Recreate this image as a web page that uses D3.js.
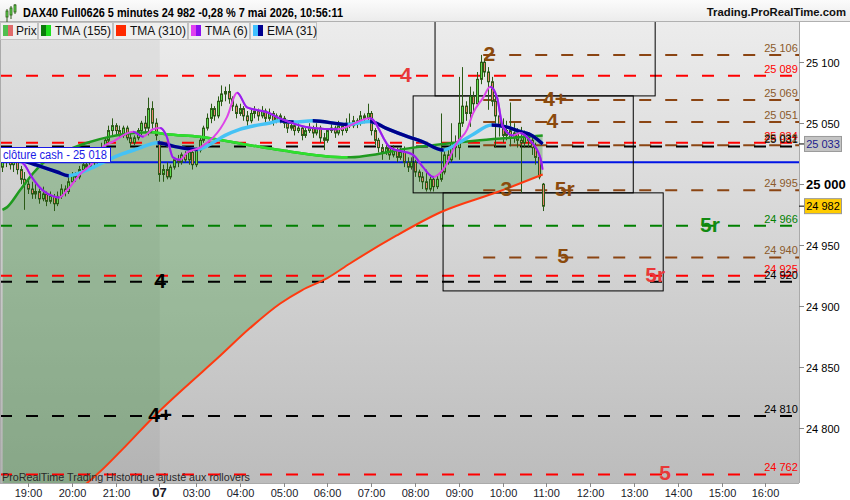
<!DOCTYPE html>
<html><head><meta charset="utf-8">
<script src="https://cdn.jsdelivr.net/npm/d3@7"></script>
<style>body{margin:0;background:#fff;} svg{display:block;font-family:"Liberation Sans",Arial,sans-serif;}</style>
</head><body><svg id="c" width="850" height="500"></svg>
<script>
// ---------- DATA ----------
const title = "DAX40 Full0626 5 minutes 24 982 -0,28 % 7 mai 2026, 10:56:11";
const brand = "Trading.ProRealTime.com";
const footer = "ProRealTime Trading  Historique ajusté aux rollovers";
const legendNames = ["Prix", "TMA (155)", "TMA (310)", "TMA (6)", "EMA (31)"];
// x tick labels and their bar index (5-minute bars, 0 = 19:00)
const tickLabels = ["19:00","20:00","21:00","07","03:00","04:00","05:00","06:00","07:00","08:00","09:00","10:00","11:00","12:00","13:00","14:00","15:00","16:00"];
const tickIndex  = [0,12,24,36,46,58,70,82,94,106,118,130,142,154,166,178,190,202];
const sessionBreak = 36.1;
const yTicks = [24800, 24850, 24900, 24950, 25000, 25050, 25100];
// candles: first bar index, then [open, high, low, close]
const barStart = -7;
const bars = [
[25014,25022,25010,25018],[25018,25026,25014,25022],[25022,25024,25012,25016],[25016,25023,25010,25020],
[25020,25022,25008,25012],[25012,25015,25000,25004],[25004,25010,24979,25000],[25000,25005,24992,24996],
[24996,25002,24988,24992],[24992,25000,24988,24994],[24994,24997,24984,24988],[24988,24998,24986,24992],
[24992,24994,24982,24986],[24986,24994,24984,24990],[24990,24992,24978,24984],[24984,24994,24982,24990],
[24990,25000,24988,24996],[24996,24999,24990,24994],[24994,25006,24992,25002],[25002,25010,25000,25008],
[25008,25010,25002,25006],[25006,25015,25004,25012],[25012,25019,25010,25016],[25016,25018,25010,25014],
[25014,25023,25012,25020],[25020,25022,25014,25018],[25018,25030,25016,25026],[25026,25034,25024,25030],
[25030,25038,25028,25036],[25036,25048,25034,25044],[25044,25054,25040,25048],[25048,25050,25040,25044],
[25044,25048,25038,25040],[25040,25048,25038,25046],[25046,25048,25036,25038],[25038,25042,25031,25034],
[25034,25040,25032,25038],[25038,25046,25036,25044],[25044,25052,25040,25050],[25050,25056,25042,25046],
[25046,25071,25040,25062],[25062,25068,25044,25050],[25050,25054,25036,25040],[25034,25036,25002,25008],
[25008,25016,25002,25012],[25012,25018,25004,25006],[25006,25016,25004,25014],[25014,25022,25012,25020],
[25020,25024,25014,25018],[25018,25026,25016,25024],[25024,25027,25018,25020],[25020,25028,25016,25026],
[25026,25028,25012,25016],[25016,25030,25014,25028],[25028,25038,25026,25036],[25036,25048,25034,25046],
[25046,25058,25044,25054],[25054,25066,25050,25062],[25062,25064,25052,25056],[25056,25072,25054,25068],
[25068,25081,25064,25074],[25074,25080,25068,25076],[25076,25082,25066,25070],[25070,25072,25060,25064],
[25064,25066,25054,25058],[25058,25066,25056,25062],[25062,25064,25052,25056],[25056,25060,25048,25052],
[25052,25062,25050,25058],[25058,25064,25054,25060],[25060,25062,25052,25056],[25056,25064,25054,25060],
[25060,25062,25050,25054],[25054,25062,25052,25058],[25058,25060,25048,25052],[25052,25058,25050,25056],
[25056,25058,25050,25054],[25054,25056,25046,25050],[25050,25052,25042,25046],[25046,25052,25044,25048],
[25048,25050,25040,25044],[25044,25050,25042,25046],[25046,25048,25036,25040],[25040,25046,25038,25044],
[25044,25050,25042,25046],[25046,25048,25038,25042],[25042,25050,25040,25046],[25046,25048,25034,25038],
[25038,25042,25028,25036],[25036,25046,25034,25044],[25044,25050,25042,25046],[25046,25048,25038,25042],
[25042,25052,25040,25048],[25048,25050,25040,25044],[25044,25054,25042,25050],[25050,25058,25046,25048],
[25048,25056,25046,25052],[25052,25054,25046,25050],[25050,25060,25048,25056],[25056,25058,25050,25054],
[25054,25066,25052,25058],[25058,25060,25040,25044],[25044,25046,25032,25036],[25036,25038,25026,25030],
[25030,25033,25020,25026],[25026,25034,25024,25030],[25030,25032,25020,25024],[25024,25032,25022,25028],
[25028,25030,25018,25022],[25022,25030,25020,25026],[25026,25031,25014,25018],[25018,25022,25010,25014],
[25014,25022,25012,25018],[25018,25020,25006,25010],[25010,25012,25002,25006],[25006,25010,24996,25002],
[25002,25012,24994,24996],[24996,25008,24994,25004],[25004,25006,24994,24998],[24998,25008,24996,25004],
[25004,25058,25002,25010],[25010,25030,25008,25024],[25024,25028,25016,25020],[25020,25050,25018,25034],
[25034,25040,25022,25030],[25030,25088,25020,25050],[25050,25096,25047,25064],[25064,25068,25052,25058],
[25058,25080,25047,25072],[25072,25076,25060,25066],[25066,25092,25064,25086],[25086,25106,25082,25100],
[25100,25103,25088,25092],[25092,25096,25061,25084],[25084,25088,25064,25068],[25068,25074,25030,25056],
[25056,25063,25039,25048],[25048,25054,25034,25040],[25040,25052,25036,25044],[25044,25067,25031,25038],
[25038,25050,25034,25042],[25042,25046,25030,25036],[25036,25047,24993,25034],[25034,25044,25030,25040],
[25040,25042,25030,25036],[25036,25040,25024,25030],[25030,25034,25016,25022],[25022,25024,25004,25006],
[25000,25001,24978,24982]
];
// moving averages: [bar index, value]
const tma155 = [[-7,24979],[-5.8,24981],[-2.2,24995],[1.4,25009],[6,25022],[10.7,25028],[16.2,25034],[22.5,25039],[28.8,25042],[34,25042.5],[38,25041],[47,25039],[60.8,25032],[69,25028],[87.4,25022],[105.5,25030],[123.8,25036],[141,25040]];
const tma310 = [[-7,24700],[5,24730],[15,24752],[20,24765],[26,24783],[35,24811],[43.6,24835],[51.8,24857],[60.8,24882],[69,24902],[75,24913],[82,24923],[88.2,24935],[101,24958],[113,24977],[129,24994],[141,25008]];
const tma6 = [[-7,25022],[-4,25021],[-1,25016],[1,25006],[4,24995],[7,24990],[8.5,24989],[10.7,24995],[14.2,25008],[18.4,25020],[20.3,25030],[23.3,25035],[28.8,25043],[31.5,25039],[34.2,25045],[36.2,25046],[38,25039],[39.7,25022],[41.6,25020],[43.6,25026],[47.1,25030],[54.5,25055],[57.3,25075],[60,25063],[65.5,25059],[69,25054],[78,25046],[84.6,25045],[93.7,25054],[99.2,25030],[105.5,25024],[108.2,25014],[111,25006],[113.7,25012],[117.5,25034],[120.3,25045],[121.9,25058],[124.7,25071],[126.6,25080],[128.5,25071],[130.1,25047],[132.9,25040],[134.8,25042],[137.5,25036],[140.3,25022],[141,25012]];
const ema31 = [[-7,25023],[-4,25021],[0,25018],[4,25014],[8,25010],[11,25007],[14,25009],[18,25014],[22,25020],[26,25025],[30,25029],[35.5,25034],[40,25031],[44,25029],[46.3,25028.5],[50,25033],[54,25040],[58,25045],[62,25048],[66,25050],[69,25052],[72.6,25051],[78,25052],[87.4,25049],[93.7,25051.5],[98,25046],[104,25039],[108,25035],[113.7,25028],[118,25034],[122,25041],[127,25048.5],[131,25047],[135,25043],[138,25040],[141,25033]];
// horizontal levels
const levelValues = [25106, 25089, 25069, 25051, 25034, 25032, 25031, 24995, 24966, 24940, 24925, 24920, 24810, 24762];
const levelKinds  = ["intraday","daily","intraday","intraday","daily","intraday","weekly","intraday","reversal","intraday","daily","weekly","weekly","daily"];
const intradayFrom = 124.7;
const tagTexts  = ["2","4","4+","4","3","5r","5r","5","5r","4","4+","5"];
const tagLevels = [25106,25089,25069,25051,24995,24995,24966,24940,24925,24920,24810,24762];
const tagKinds  = ["intraday","daily","intraday","intraday","intraday","intraday","reversal","intraday","daily","weekly","weekly","daily"];
const tagAt     = [126.4,103.5,144.4,143.6,131,147,186.8,146.6,171.8,36.2,36.2,174.5];
const cashClose = 25018;
// boxes: [from index, to index, top value, bottom value]
const boxes = [[111.5,171.8,25150,25072.4],[105.5,165.8,25072.4,24992.9],[113.7,174,24992.9,24912.5]];
const lastPrice = 24982, lastEma = 25033;

// ---------- DRAW ----------
const svg = d3.select("#c");
const W = 850, H = 500, PL = 0, PR = 799, PT = 22, PB = 483;
const x = d3.scaleLinear().domain([-7.67, 211.2]).range([PL, PR]);
const y = d3.scaleLinear().domain([24755, 25133]).range([PB, PT]);
const fmt = d3.formatLocale({thousands: " ", grouping: [3], decimal: ","}).format(",d");
const defs = svg.append("defs");

const bgGrad = defs.append("linearGradient").attr("id","bg").attr("x1",0).attr("x2",0).attr("y1",0).attr("y2",1);
bgGrad.append("stop").attr("offset","0%").attr("stop-color","#ececec");
bgGrad.append("stop").attr("offset","100%").attr("stop-color","#bcbcbc");
const hdGrad = defs.append("linearGradient").attr("id","hd").attr("x1",0).attr("x2",0).attr("y1",0).attr("y2",1);
hdGrad.append("stop").attr("offset","0%").attr("stop-color","#fbfbfb");
hdGrad.append("stop").attr("offset","100%").attr("stop-color","#ececec");

defs.append("clipPath").attr("id","plot").append("rect").attr("x",PL).attr("y",PT).attr("width",PR-PL).attr("height",PB-PT);

svg.append("rect").attr("width",W).attr("height",H).attr("fill","#fff");
svg.append("rect").attr("x",PL).attr("y",PT).attr("width",PR-PL).attr("height",PB-PT).attr("fill","url(#bg)");

const g = svg.append("g").attr("clip-path","url(#plot)");
g.append("rect").attr("x",PL).attr("y",PT).attr("width",x(sessionBreak)-PL).attr("height",PB-PT).attr("fill","rgba(0,0,0,0.045)");

// fill between TMA155 and TMA310
const redClip = defs.append("clipPath").attr("id","aboveRed");
redClip.append("path").attr("d", d3.area().x(d=>x(d[0])).y0(0).y1(d=>y(d[1])).curve(d3.curveMonotoneX)(tma310));
g.append("path").attr("d", d3.area().x(d=>x(d[0])).y0(PB+50).y1(d=>y(d[1])).curve(d3.curveMonotoneX)(tma155))
  .attr("fill","rgba(45,140,45,0.32)").attr("clip-path","url(#aboveRed)");

svg.append("text").attr("x",2).attr("y",481).attr("font-size",11).attr("fill","#2a2a2a")
  .attr("textLength",248).attr("lengthAdjust","spacingAndGlyphs").text(footer);

// levels
const lvlColor = {intraday:"#8b4513", daily:"#ff0000", weekly:"#000000", reversal:"#008000"};
const tagColor = {intraday:"#8b4a0c", daily:"#e83838", weekly:"#000000", reversal:"#118a11"};
const lblColor = {intraday:"#8b5a2b", daily:"#ff0000", weekly:"#000000", reversal:"#008000"};
levelValues.forEach((v,k)=>{
  const kind = levelKinds[k];
  const x0 = kind === "intraday" ? x(intradayFrom) : PL;
  g.append("line").attr("x1",x0).attr("x2",PR).attr("y1",y(v)).attr("y2",y(v))
    .attr("stroke",lvlColor[kind]).attr("stroke-width",2).attr("stroke-dasharray","12,14");
});
// cash close
g.append("line").attr("x1",PL).attr("x2",PR).attr("y1",y(cashClose)).attr("y2",y(cashClose)).attr("stroke","#0014e6").attr("stroke-width",2);

// boxes
boxes.forEach(b=>{
  g.append("rect").attr("x",x(b[0])).attr("y",y(b[2])).attr("width",x(b[1])-x(b[0])).attr("height",y(b[3])-y(b[2]))
   .attr("fill","none").attr("stroke","#000").attr("stroke-width",1);
});

// candles
const cg = g.append("g");
bars.forEach((b,k)=>{
  const cx = Math.round(x(barStart+k));
  cg.append("line").attr("x1",cx+0.5).attr("x2",cx+0.5).attr("y1",y(b[1])).attr("y2",y(b[2])).attr("stroke","#2b5a16").attr("stroke-width",1);
  const top = y(Math.max(b[0],b[3])), bot = y(Math.min(b[0],b[3]));
  cg.append("rect").attr("x",cx-0.5).attr("y",top).attr("width",2).attr("height",Math.max(1,bot-top))
    .attr("fill", b[3]>=b[0] ? "#5fdc4f" : "#e8826e").attr("stroke","#2b5a16").attr("stroke-width",1);
});

// coloured moving-average lines
function colorLine(data, upCol, downCol, w, id){
  const path = d3.line().x(d=>x(d[0])).y(d=>y(d[1])).curve(d3.curveMonotoneX)(data);
  g.append("path").attr("d",path).attr("fill","none").attr("stroke",upCol).attr("stroke-width",w).attr("stroke-linejoin","round");
  if (downCol && downCol !== upCol){
    const cp = defs.append("clipPath").attr("id",id);
    for (let k=1;k<data.length;k++) if (data[k][1] < data[k-1][1])
      cp.append("rect").attr("x",x(data[k-1][0])).attr("width",x(data[k][0])-x(data[k-1][0])+0.6).attr("y",0).attr("height",H);
    g.append("path").attr("d",path).attr("fill","none").attr("stroke",downCol).attr("stroke-width",w).attr("clip-path",`url(#${id})`);
  }
}
colorLine(tma310, "#ff3a10", null, 2, "c310");
colorLine(tma155, "#1f9a1f", "#2ee02e", 2.5, "c155");
colorLine(ema31, "#45c2f5", "#00008b", 3.5, "cema");
colorLine(tma6, "#dd44e8", "#9520ee", 2, "c6");

// level tags
tagTexts.forEach((t,k)=>{
  g.append("text").attr("x",x(tagAt[k])).attr("y",y(tagLevels[k])+6).attr("text-anchor","middle")
   .attr("font-size",21).attr("font-weight","bold").attr("fill",tagColor[tagKinds[k]]).text(t);
});
// right-side level values
levelValues.forEach((v,k)=>{
  g.append("text").attr("x",781).attr("y",y(v)-3).attr("text-anchor","middle").attr("font-size",11)
   .attr("fill",lblColor[levelKinds[k]]).text(fmt(v));
});

// cash close label
svg.append("rect").attr("x",0.5).attr("y",147.5).attr("width",110).attr("height",15).attr("fill","#fff").attr("stroke","#1a1ae6");
svg.append("text").attr("x",3).attr("y",159).attr("font-size",12).attr("fill","#1a1ae6")
  .attr("textLength",104).attr("lengthAdjust","spacingAndGlyphs").text("clôture cash -  " + fmt(cashClose));

// plot borders
svg.append("line").attr("x1",PR+0.5).attr("x2",PR+0.5).attr("y1",PT).attr("y2",PB).attr("stroke","#aaa");
svg.append("line").attr("x1",0.5).attr("x2",0.5).attr("y1",PT).attr("y2",PB).attr("stroke","#aaa");
svg.append("line").attr("x1",0).attr("x2",PR).attr("y1",PB+0.5).attr("y2",PB+0.5).attr("stroke","#aaa");

// right axis
yTicks.forEach(v=>{
  const yy = Math.round(y(v))+0.5;
  svg.append("line").attr("x1",PR).attr("x2",PR+5).attr("y1",yy).attr("y2",yy).attr("stroke","#888");
  const major = v % 1000 === 0;
  svg.append("text").attr("x",806).attr("y",yy+4).attr("font-size",major?13:11).attr("font-weight",major?"bold":"normal").attr("fill","#000").text(fmt(v));
});
function priceBox(v, fill, col){
  const yy = y(v);
  svg.append("rect").attr("x",804.5).attr("y",yy-7.5).attr("width",37).attr("height",15).attr("fill",fill).attr("stroke","#999");
  svg.append("line").attr("x1",PR).attr("x2",804).attr("y1",yy).attr("y2",yy).attr("stroke","#000");
  svg.append("text").attr("x",823).attr("y",yy+4).attr("text-anchor","middle").attr("font-size",11).attr("fill",col).text(fmt(v));
}
priceBox(lastEma, "#c4c4c4", "#1c1c8c");
priceBox(lastPrice, "#ffcc00", "#000");

// x axis
tickIndex.forEach((t,k)=>{
  const xx = Math.round(x(t))+0.5;
  svg.append("line").attr("x1",xx).attr("x2",xx).attr("y1",PB).attr("y2",PB+4).attr("stroke","#888");
  const bold = tickLabels[k].length === 2;
  svg.append("text").attr("x",xx).attr("y",497).attr("text-anchor","middle").attr("font-size",bold?13:11)
    .attr("font-weight",bold?"bold":"normal").attr("fill","#1a1a2a").text(tickLabels[k]);
});

// header
svg.append("rect").attr("x",0).attr("y",0).attr("width",W).attr("height",21).attr("fill","url(#hd)");
svg.append("line").attr("x1",0).attr("x2",W).attr("y1",21.5).attr("y2",21.5).attr("stroke","#b0b0b0");
[[6,9,15,11,13],[10,6,13,8,11],[14,4,10,5,8]].forEach(c=>{
  svg.append("line").attr("x1",c[0]+1).attr("x2",c[0]+1).attr("y1",c[1]).attr("y2",c[1]+c[2]).attr("stroke","#2b5a16");
  svg.append("rect").attr("x",c[0]).attr("y",c[3]).attr("width",2).attr("height",c[4]-c[3]+4).attr("fill","#5fdc4f").attr("stroke","#2b5a16").attr("stroke-width",0.8);
});
svg.append("text").attr("x",23).attr("y",17).attr("font-size",12.5).attr("font-weight","bold").attr("fill","#000")
  .attr("textLength",320).attr("lengthAdjust","spacingAndGlyphs").text(title);
svg.append("text").attr("x",846).attr("y",16).attr("text-anchor","end").attr("font-size",11.3).attr("font-weight","bold").attr("fill","#111").text(brand);

// legend
const legX = [0, 38, 113, 188, 250, 317];
const legSw = [["#4fbf4f","#e06a6a"],["#0b7a0b","#1ee01e"],["#ff2a00","#ff2a00"],["#e040f0","#8a10f0"],["#40c0ff","#000090"]];
legendNames.forEach((n,k)=>{
  svg.append("rect").attr("x",legX[k]+0.5).attr("y",22.5).attr("width",legX[k+1]-legX[k]-1).attr("height",17).attr("fill","#efefef").attr("stroke","#c2c2c2");
  svg.append("rect").attr("x",legX[k]+3).attr("y",25).attr("width",5).attr("height",11).attr("fill",legSw[k][0]);
  svg.append("rect").attr("x",legX[k]+8).attr("y",25).attr("width",5).attr("height",11).attr("fill",legSw[k][1]);
  svg.append("text").attr("x",legX[k]+(k===0?16:17)).attr("y",35).attr("font-size",12).attr("fill","#111").text(n);
});
</script></body></html>
